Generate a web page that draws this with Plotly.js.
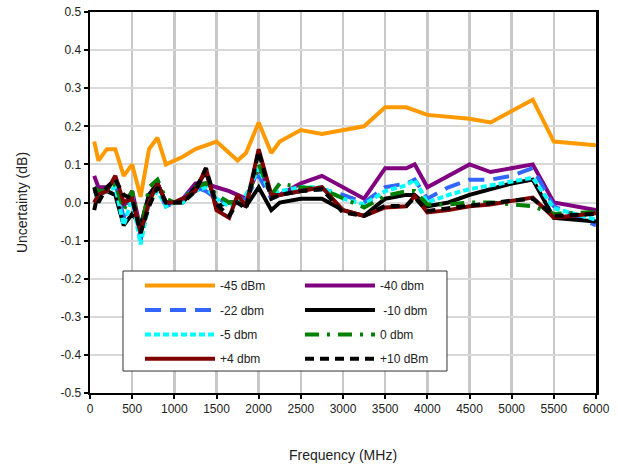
<!DOCTYPE html>
<html>
<head>
<meta charset="utf-8">
<script src="https://cdn.plot.ly/plotly-3.0.1.min.js"></script>
<style>html,body{margin:0;padding:0;background:#fff;}#chart{width:618px;height:469px;}</style>
</head>
<body>
<div id="chart"></div>
<script>
// Frequencies (MHz)
const freq = [50, 100, 200, 300, 400, 500, 600, 700, 800, 900, 1000, 1100, 1250, 1375, 1500, 1650, 1750, 1850, 2000, 2150, 2250, 2500, 2750, 3000, 3250, 3500, 3750, 3850, 4000, 4250, 4500, 4750, 5000, 5250, 5500, 6000];

// Uncertainty (dB) per power level
const m45  = [0.16, 0.11, 0.14, 0.14, 0.07, 0.10, 0.015, 0.14, 0.17, 0.10, null, 0.12, 0.14, 0.15, 0.16, null, 0.11, 0.13, 0.21, 0.13, 0.16, 0.19, 0.18, null, 0.20, 0.25, 0.25, null, 0.23, null, 0.22, 0.21, null, 0.27, 0.16, 0.15];
const m40  = [0.07, 0.04, 0.04, 0.06, -0.01, 0.03, -0.07, 0.02, 0.05, 0.00, 0.00, 0.01, 0.05, 0.05, 0.04, 0.03, 0.02, 0.01, 0.09, 0.02, 0.02, 0.05, 0.07, 0.04, 0.01, 0.09, 0.09, 0.10, 0.04, null, 0.10, 0.08, null, 0.10, 0.00, -0.02];
const m22  = [0.03, 0.02, 0.03, 0.05, -0.04, 0.02, -0.10, 0.02, 0.04, -0.01, 0.00, 0.01, 0.04, 0.03, 0.01, 0.00, 0.00, 0.01, 0.07, 0.01, 0.02, 0.03, 0.035, 0.02, 0.00, 0.04, 0.05, 0.06, 0.01, 0.04, 0.06, 0.06, 0.07, 0.09, -0.01, -0.06];
const m10  = [-0.02, 0.03, 0.03, 0.02, -0.06, -0.03, -0.06, 0.02, 0.05, 0.00, 0.00, 0.00, 0.04, 0.08, -0.01, 0.00, 0.00, -0.01, 0.04, -0.02, 0.00, 0.01, 0.01, -0.02, -0.035, 0.01, 0.02, 0.02, -0.01, 0.00, 0.02, 0.035, 0.05, 0.06, -0.04, -0.05];
const m5   = [0.02, 0.02, 0.03, 0.04, -0.06, 0.01, -0.11, 0.00, 0.03, -0.01, 0.00, 0.00, 0.03, 0.04, 0.01, -0.01, 0.00, 0.02, 0.09, 0.02, 0.03, 0.04, 0.04, 0.01, -0.005, 0.03, 0.045, 0.06, 0.00, 0.02, 0.035, 0.045, 0.055, 0.065, -0.015, -0.045];
const p0   = [0.04, 0.03, 0.03, 0.05, -0.02, 0.03, -0.08, 0.04, 0.06, 0.01, 0.00, 0.01, 0.04, 0.05, 0.02, 0.00, 0.00, 0.00, 0.10, 0.02, 0.05, 0.04, 0.035, 0.01, -0.013, 0.017, 0.03, 0.03, -0.005, -0.005, 0.00, 0.00, -0.005, -0.01, -0.03, -0.025];
const p4   = [0.00, 0.02, 0.03, 0.07, 0.00, 0.01, -0.08, 0.00, 0.05, 0.00, 0.00, 0.01, 0.03, 0.09, -0.02, -0.04, 0.02, -0.01, 0.14, 0.02, 0.02, 0.03, 0.04, -0.02, -0.035, -0.013, -0.01, 0.017, -0.026, -0.02, -0.01, -0.005, 0.005, 0.013, -0.04, -0.028];
const p10  = [0.04, 0.00, 0.04, 0.06, 0.02, 0.01, -0.08, -0.01, 0.04, 0.00, 0.00, 0.00, 0.03, 0.09, -0.005, -0.035, 0.00, -0.017, 0.135, 0.01, 0.02, 0.03, 0.035, -0.026, -0.035, -0.009, -0.009, 0.013, -0.022, -0.015, -0.009, 0.00, 0.005, 0.01, -0.035, -0.03];

const seriesNames = ['-45 dBm', '-40 dbm', '-22 dbm', '\u00a0-10 dbm', '-5 dbm', '0 dbm', '+4 dbm', '+10 dBm'];
const seriesVals = [m45, m40, m22, m10, m5, p0, p4, p10];
const seriesColors = ['#FF9900', '#800080', '#3366FF', '#000000', '#00FFFF', '#008000', '#800000', '#000000'];
const seriesDash = ['solid', 'solid', '16px,9px', 'solid', '6px,3px', '14px,8px,3px,8px', 'solid', '9px,6px'];
const seriesLegend = ['legend', 'legend2', 'legend', 'legend2', 'legend', 'legend2', 'legend', 'legend2'];

const yTicks = [-0.5, -0.4, -0.3, -0.2, -0.1, 0.0, 0.1, 0.2, 0.3, 0.4, 0.5];
const yTickText = ['-0.5', '-0.4', '-0.3', '-0.2', '-0.1', '0.0', '0.1', '0.2', '0.3', '0.4', '0.5'];
const xTicks = [0, 500, 1000, 1500, 2000, 2500, 3000, 3500, 4000, 4500, 5000, 5500, 6000];

const traces = seriesNames.map((n, i) => ({
  x: freq, y: seriesVals[i], name: n, type: 'scatter', mode: 'lines',
  connectgaps: true, legend: seriesLegend[i], legendgroup: 'g' + i,
  line: {color: seriesColors[i], width: 4, dash: seriesDash[i]}
}));

const fam = '"Liberation Sans", Arial, sans-serif';
const font = {family: fam, size: 12, color: '#222'};
const legBase = {
  orientation: 'v', y: 0.32, xanchor: 'left', yanchor: 'top',
  bgcolor: 'rgba(0,0,0,0)', borderwidth: 0, itemwidth: 70, tracegroupgap: 5.4,
  font: {family: fam, size: 12, color: '#222'}
};

const layout = {
  width: 618, height: 469,
  margin: {l: 90, r: 22, t: 12, b: 76},
  paper_bgcolor: '#fff', plot_bgcolor: '#fff',
  font: font,
  showlegend: true,
  legend: Object.assign({}, legBase, {x: 0.0988}),
  legend2: Object.assign({}, legBase, {x: 0.415}),
  shapes: [{
    type: 'rect', xref: 'paper', yref: 'paper', layer: 'above',
    x0: 0.0652, x1: 0.7055, y0: 0.0577, y1: 0.3202,
    fillcolor: '#fff', line: {color: '#333', width: 1}
  }],
  xaxis: {
    range: [0, 6000], tickvals: xTicks, ticktext: xTicks.map(String),
    showgrid: true, gridcolor: '#c8c8c8', gridwidth: 2.5,
    showline: true, linecolor: '#000', linewidth: 2, mirror: true,
    ticks: 'outside', ticklen: 4, tickwidth: 2, tickcolor: '#000',
    zeroline: false,
    title: {text: 'Frequency (MHz)', font: {size: 14, family: fam, color: '#222'}, standoff: 35}
  },
  yaxis: {
    range: [-0.5, 0.5], tickvals: yTicks, ticktext: yTickText,
    showgrid: true, gridcolor: '#d9d9d9', gridwidth: 2,
    showline: true, linecolor: '#000', linewidth: 2.5, mirror: true,
    ticks: 'outside', ticklen: 4, tickwidth: 2, tickcolor: '#000',
    zeroline: false,
    title: {text: 'Uncertainty (dB)', font: {size: 14, family: fam, color: '#222'}, standoff: 30}
  }
};

Plotly.newPlot('chart', traces, layout, {displayModeBar: false, staticPlot: true});
</script>
</body>
</html>
